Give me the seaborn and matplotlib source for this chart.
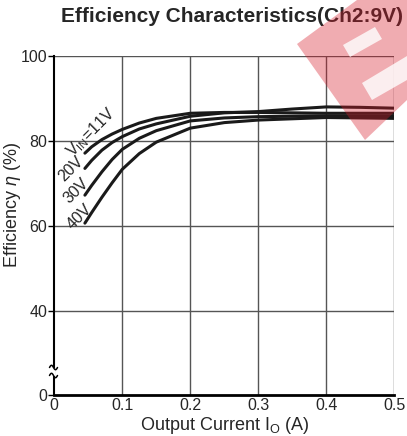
import numpy as np
import pandas as pd
import seaborn as sns
import matplotlib.pyplot as plt
from matplotlib.patches import Polygon, Rectangle
from matplotlib.lines import Line2D

# ---- data ----
current = [0.045, 0.055, 0.07, 0.085, 0.1, 0.125, 0.15, 0.2, 0.25, 0.3, 0.35, 0.4, 0.45, 0.5]
eff_11v = [77.1, 78.6, 80.3, 81.6, 82.7, 84.2, 85.3, 86.5, 86.7, 86.7, 86.6, 86.5, 86.5, 86.5]
eff_20v = [73.5, 75.4, 77.8, 79.6, 81.0, 82.8, 84.0, 85.8, 86.6, 86.9, 87.5, 88.0, 87.9, 87.7]
eff_30v = [67.2, 69.5, 72.7, 75.6, 78.0, 80.6, 82.4, 84.7, 85.4, 85.7, 85.8, 85.9, 85.9, 85.9]
eff_40v = [60.6, 63.1, 66.7, 70.1, 73.3, 77.0, 79.7, 83.0, 84.3, 84.9, 85.2, 85.5, 85.4, 85.3]
series_names = ["11V", "20V", "30V", "40V"]
curve_labels = ["V$_{\\mathregular{IN}}$=11V", "20V", "30V", "40V"]
x_ticks = [0, 0.1, 0.2, 0.3, 0.4, 0.5]
x_tick_labels = ["0", "0.1", "0.2", "0.3", "0.4", "0.5"]
y_ticks = [20, 40, 60, 80, 100]
y_tick_labels = ["0", "40", "60", "80", "100"]

df = pd.concat([
    pd.DataFrame({"I": current, "eff": vals, "vin": name})
    for name, vals in zip(series_names, [eff_11v, eff_20v, eff_30v, eff_40v])
])

sns.set_style("white")
plt.rcParams["font.family"] = ["Liberation Sans", "DejaVu Sans"]
plt.rcParams["mathtext.fontset"] = "custom"
plt.rcParams["mathtext.rm"] = "Liberation Sans"
plt.rcParams["mathtext.it"] = "Liberation Sans:italic"

W, H = 407, 436
fig = plt.figure(figsize=(W / 100, H / 100), dpi=100)
ax_left, ax_bottom, ax_w, ax_h = 54.3, H - 395.4, 340.0, 339.4
ax = fig.add_axes([ax_left / W, ax_bottom / H, ax_w / W, ax_h / H])

sns.lineplot(data=df, x="I", y="eff", hue="vin", palette=["#1a1a1a"] * 4,
             linewidth=2.2, legend=False, ax=ax, zorder=3)

ax.set_xlim(0, 0.5)
ax.set_ylim(20, 100)
ax.set_xticks(x_ticks)
ax.set_xticklabels(x_tick_labels, fontsize=11.5)
ax.set_yticks(y_ticks)
ax.set_yticklabels(y_tick_labels, fontsize=11.5)
ax.tick_params(axis="x", length=0, pad=2)
ax.tick_params(axis="y", length=4, width=1, pad=1, direction="out", left=True, color="black")

# grid
for gx in [0.1, 0.2, 0.3, 0.4, 0.5]:
    ax.axvline(gx, color="#555555", lw=1.0, zorder=1)
for gy in [40, 60, 80, 100]:
    ax.axhline(gy, color="#555555", lw=1.0, zorder=1)

for s in ["top", "right"]:
    ax.spines[s].set_visible(False)
ax.spines["left"].set_color("black")
ax.spines["left"].set_linewidth(1.5)
ax.spines["bottom"].set_color("black")
ax.spines["bottom"].set_linewidth(2.0)

ax.set_xlabel("Output Current I$_{\\mathregular{O}}$ (A)", fontsize=13)
ax.xaxis.set_label_coords((224.3 - ax_left) / ax_w, (395.4 - 415) / ax_h)
ax.set_ylabel("Efficiency $\\mathit{\\eta}$ (%)", fontsize=13)
ax.yaxis.set_label_coords((23 - ax_left) / ax_w, (395.4 - 205) / ax_h)

# axis break marks (in figure pixels)
def px(x, y):
    return x / W, 1 - y / H

fig.add_artist(Rectangle(px(52, 375.5), 3 / W, 8 / H, transform=fig.transFigure,
                         facecolor="white", edgecolor="none", zorder=6))
t = np.linspace(0, 1, 30)
for yc in [367.5, 375.5]:
    xs = 49.5 + 8 * t
    ys = yc - 2.2 * np.sin(2 * np.pi * t)
    fig.add_artist(Line2D(xs / W, 1 - ys / H, transform=fig.transFigure,
                          color="black", lw=1.1, zorder=7))

# curve labels
label_pos = [(0.054, 82.1), (0.0246, 73.4), (0.0319, 68.2), (0.0364, 62.1)]
for (lx, ly), txt in zip(label_pos, curve_labels):
    ax.text(lx, ly, txt, rotation=45, ha="center", va="center", fontsize=11.5,
            rotation_mode="anchor", zorder=4)

fig.text(232 / W, 1 - 17 / H, "Efficiency Characteristics(Ch2:9V)",
         fontsize=15, fontweight="bold", ha="center", va="center")

# watermark (pale red shape at the top right)
def fp(pts):
    return [(x / W, 1 - y / H) for x, y in pts]

fig.add_artist(Polygon(fp([(297, 44), (357, 0), (407, 0), (407, 100), (365, 140)]),
                       closed=True, transform=fig.transFigure,
                       facecolor=(0.84, 0.1, 0.16), alpha=0.36,
                       edgecolor="none", zorder=10))
for pts in [[(343, 45), (375, 27), (382, 39), (350, 57)],
            [(362, 83), (407, 56), (407, 80), (372, 100)]]:
    fig.add_artist(Polygon(fp(pts), closed=True, transform=fig.transFigure,
                           facecolor="white", alpha=0.8, edgecolor="none", zorder=11))

fig.savefig("out.png", dpi=100)
